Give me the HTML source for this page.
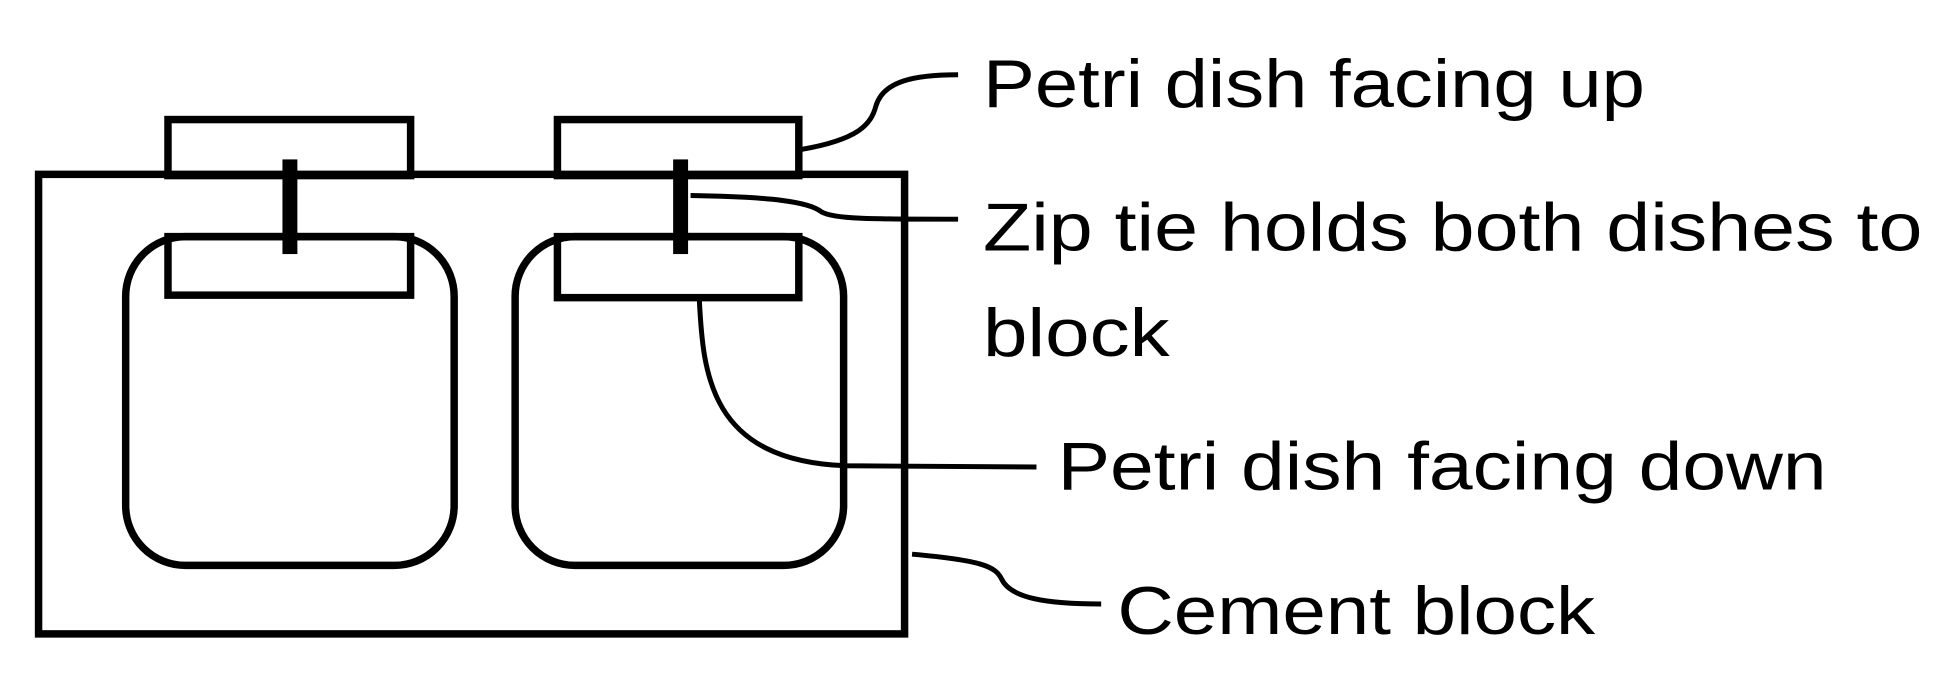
<!DOCTYPE html>
<html><head><meta charset="utf-8"><style>html,body{margin:0;padding:0;background:#fff}svg{display:block}</style></head>
<body>
<svg width="1951" height="675" viewBox="0 0 1568 542" preserveAspectRatio="none" xmlns="http://www.w3.org/2000/svg">
<g fill="none" stroke="#000" stroke-width="6">
<rect x="135" y="96" width="195" height="45"/>
<rect x="448" y="96" width="194" height="45"/>
<rect x="31" y="140" width="696" height="369"/>
<rect x="101" y="190" width="264" height="264" rx="48"/>
<rect x="414" y="190" width="264" height="264" rx="48"/>
<rect x="135" y="190" width="195" height="47"/>
<rect x="448" y="190" width="194" height="49"/>
</g>
<g fill="#000">
<rect x="227" y="128" width="12" height="76"/>
<rect x="541" y="128" width="12" height="76"/>
</g>
<g fill="none" stroke="#000" stroke-width="4">
<path d="M644 120 C690 112 700 100 704 85 C710 65 735 60 770 60"/>
<path d="M555 157 C620 158 650 162 660 170 C670 176 700 176 770 176"/>
<path d="M562 240 C565 300 570 370 680 374 L833 375"/>
<path d="M733 445 C790 450 800 455 805 465 C812 480 840 485 885 485"/>
</g>
<g font-family="'Liberation Sans', sans-serif" font-size="54" fill="#000">
<text x="790" y="86" textLength="532" lengthAdjust="spacingAndGlyphs">Petri dish facing up</text>
<text x="790" y="201" textLength="755" lengthAdjust="spacingAndGlyphs">Zip tie holds both dishes to</text>
<text x="790" y="286" textLength="150" lengthAdjust="spacingAndGlyphs">block</text>
<text x="850" y="393" textLength="618" lengthAdjust="spacingAndGlyphs">Petri dish facing down</text>
<text x="898" y="509" textLength="384" lengthAdjust="spacingAndGlyphs">Cement block</text>
</g>
</svg>
</body></html>
